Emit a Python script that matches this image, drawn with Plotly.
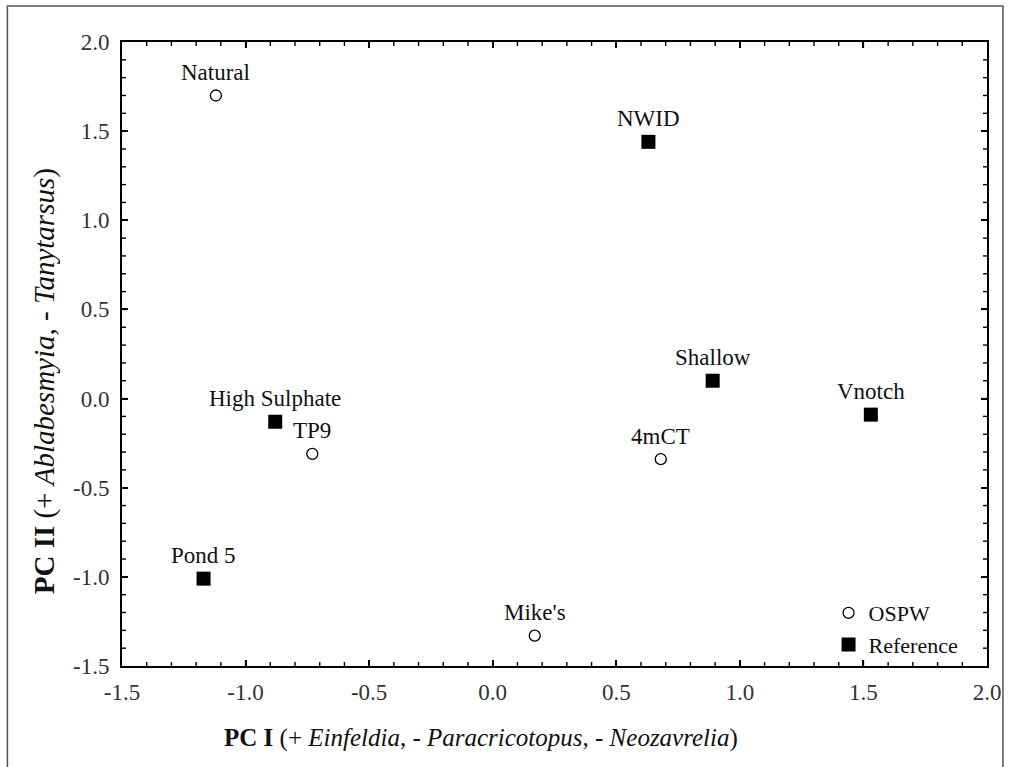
import plotly.graph_objects as go

# Data
ospw_names = ["Natural", "TP9", "4mCT", "Mike's"]
ospw_x = [-1.12, -0.73, 0.68, 0.17]
ospw_y = [1.70, -0.31, -0.34, -1.33]

ref_names = ["NWID", "Shallow", "Vnotch", "High Sulphate", "Pond 5"]
ref_x = [0.63, 0.89, 1.53, -0.88, -1.17]
ref_y = [1.44, 0.10, -0.09, -0.13, -1.01]

tick_vals = [-1.5, -1.0, -0.5, 0.0, 0.5, 1.0, 1.5, 2.0]
tick_text = ["-1.5", "-1.0", "-0.5", "0.0", "0.5", "1.0", "1.5", "2.0"]
axis_min, axis_max = -1.5, 2.0
minor_vals = [round(axis_min + 0.1 * i, 1) for i in range(1, 35)]

FONT = "Liberation Serif, Times New Roman, serif"

fig = go.Figure()
fig.add_trace(go.Scatter(
    x=ospw_x, y=ospw_y, mode="markers", name="OSPW",
    marker=dict(symbol="circle-open", size=11, color="black", line=dict(width=1.3)),
))
fig.add_trace(go.Scatter(
    x=ref_x, y=ref_y, mode="markers", name="Reference",
    marker=dict(symbol="square", size=14, color="black"),
))

for names, xs, ys in [(ospw_names, ospw_x, ospw_y), (ref_names, ref_x, ref_y)]:
    for n, xv, yv in zip(names, xs, ys):
        fig.add_annotation(x=xv, y=yv, text=n, showarrow=False, yshift=23,
                           font=dict(family=FONT, size=23, color="#111"))

axis_common = dict(
    range=[axis_min, axis_max], tickmode="array", tickvals=tick_vals, ticktext=tick_text,
    showgrid=False, zeroline=False, showline=True, linecolor="black", linewidth=2,
    mirror="ticks", ticks="inside", ticklen=6, tickwidth=1.6, tickcolor="black",
    tickfont=dict(family=FONT, size=23, color="#333"),
)
fig.update_xaxes(ticklabelstandoff=4, **axis_common)
fig.update_yaxes(ticklabelstandoff=6, **axis_common)

# inside tick marks on all four sides, positioned in data units along each axis
tick_line = dict(color="black", width=1.4)
for v in minor_vals:
    ln = 6 if v in tick_vals else 4
    # bottom and top
    fig.add_shape(type="line", xref="x", yref="paper", ysizemode="pixel", yanchor=0,
                  x0=v, x1=v, y0=0, y1=ln, line=tick_line)
    fig.add_shape(type="line", xref="x", yref="paper", ysizemode="pixel", yanchor=1,
                  x0=v, x1=v, y0=0, y1=-ln, line=tick_line)
    # left and right
    fig.add_shape(type="line", yref="y", xref="paper", xsizemode="pixel", xanchor=0,
                  y0=v, y1=v, x0=0, x1=ln, line=tick_line)
    fig.add_shape(type="line", yref="y", xref="paper", xsizemode="pixel", xanchor=1,
                  y0=v, y1=v, x0=0, x1=-ln, line=tick_line)

# axis titles
fig.add_annotation(xref="paper", yref="paper", x=(482 - 122) / 868, y=(666 - 738) / 624,
                   text="<b>PC I</b> (+ <i>Einfeldia</i>, - <i>Paracricotopus</i>, - <i>Neozavrelia</i>)",
                   showarrow=False, font=dict(family=FONT, size=25, color="#111"),
                   xanchor="center", yanchor="middle")
fig.add_annotation(xref="paper", yref="paper", x=(44 - 122) / 868, y=(666 - 381) / 624,
                   text="<b>PC II</b> (+ <i>Ablabesmyia</i>, - <i>Tanytarsus</i>)",
                   showarrow=False, textangle=-90, font=dict(family=FONT, size=29, color="#111"),
                   xanchor="center", yanchor="middle")

# outer frame
fig.add_shape(type="rect", xref="paper", yref="paper",
              x0=(7 - 122) / 868, x1=(1006 - 122) / 868,
              y0=(666 - 775) / 624, y1=(666 - 6) / 624,
              line=dict(color="#555", width=1.5), fillcolor="rgba(0,0,0,0)", layer="below")

fig.update_layout(
    width=1013, height=767,
    margin=dict(l=122, r=1013 - 990, t=42, b=767 - 666),
    plot_bgcolor="white", paper_bgcolor="white",
    showlegend=True,
    legend=dict(x=(831 - 122) / 868, y=(666 - 592) / 624, xanchor="left", yanchor="top",
                bgcolor="rgba(0,0,0,0)", font=dict(family=FONT, size=22, color="#111"),
                tracegroupgap=0),
)

fig.write_html("out.html")
